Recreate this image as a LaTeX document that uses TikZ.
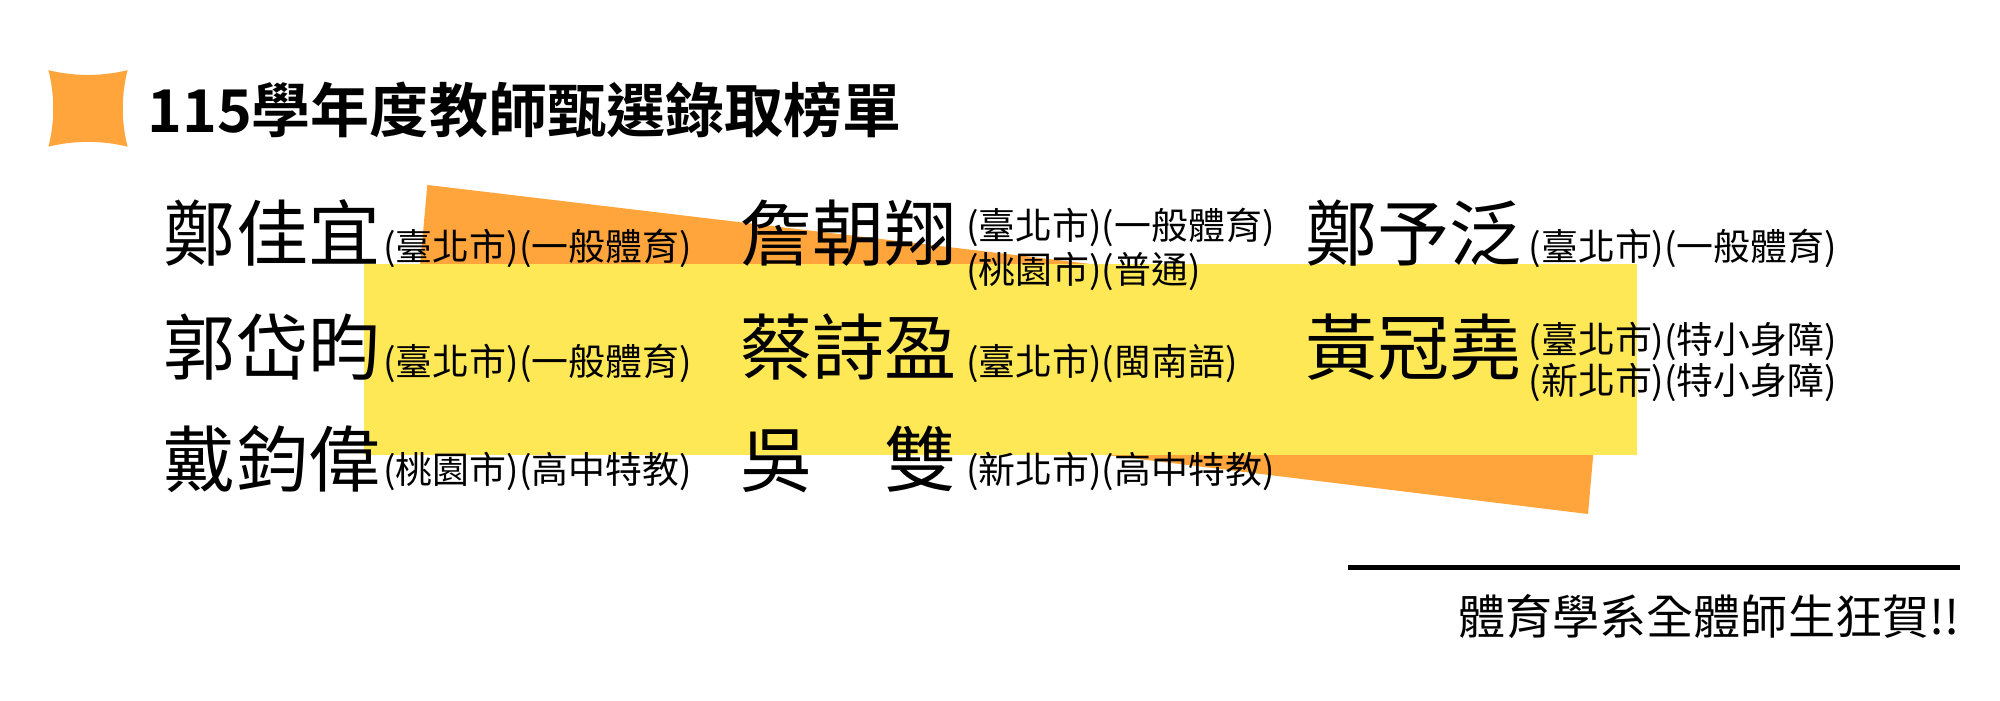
\documentclass[tikz,border=0pt]{standalone}
\usepackage{fontspec}
\setmainfont{Noto Sans CJK TC}
\newfontfamily\cjkb{Noto Sans CJK TC}[BoldFont={* Bold}]
\definecolor{og}{HTML}{FFA53B}
\definecolor{yl}{HTML}{FFE855}
\begin{document}
\begin{tikzpicture}[x=0.012755cm,y=-0.012755cm,
  nm/.style={anchor=west,inner sep=0,font=\fontsize{20.5}{22}\selectfont},
  sm/.style={anchor=west,inner sep=0,font=\fontsize{10.5}{12}\selectfont}]
\useasboundingbox (0,0) rectangle (1568,549);
\fill[og] (38,55) .. controls (58,60) and (80,60) .. (100,55) .. controls (95,75) and (95,95) .. (100,115) .. controls (80,110) and (58,110) .. (38,115) .. controls (43,95) and (43,75) .. (38,55) -- cycle;
\node[anchor=west,inner sep=0,font=\cjkb\bfseries\fontsize{16.8}{18}\selectfont] (title) at (115,86) {115學年度教師甄選錄取榜單};
\fill[og] (335,145) -- (1258,255) -- (1245,403) -- (322,290) -- cycle;
\fill[yl] (285,207) rectangle (1283,357);
\node[nm] (n1) at (128,183) {鄭佳宜};
\node[sm] (s1) at (300,195) {(臺北市)(一般體育)};
\node[nm] (n2) at (128,272) {郭岱昀};
\node[sm] (s2) at (300,285) {(臺北市)(一般體育)};
\node[nm] (n3) at (128,360) {戴鈞偉};
\node[sm] (s3) at (300,370) {(桃園市)(高中特教)};
\node[nm] (n4) at (580,183) {詹朝翔};
\node[sm] (s4a) at (757,178) {(臺北市)(一般體育)};
\node[sm] (s4b) at (757,213) {(桃園市)(普通)};
\node[nm] (n5) at (580,272) {蔡詩盈};
\node[sm] (s5) at (757,285) {(臺北市)(閩南語)};
\node[nm] (n6) at (580,360) {吳　雙};
\node[sm] (s6) at (757,370) {(新北市)(高中特教)};
\node[nm] (n7) at (1023,183) {鄭予泛};
\node[sm] (s7) at (1198,195) {(臺北市)(一般體育)};
\node[nm] (n8) at (1023,272) {黃冠堯};
\node[sm] (s8a) at (1198,268) {(臺北市)(特小身障)};
\node[sm] (s8b) at (1198,300) {(新北市)(特小身障)};
\coordinate (la) at (1057,445);
\coordinate (lb) at (1537,445);
\draw[line width=1.2pt] (la) -- (lb);
\node[anchor=east,inner sep=0,font=\fontsize{13.4}{15}\selectfont] (cong) at (1537,483) {體育學系全體師生狂賀!!};
\end{tikzpicture}
\end{document}
